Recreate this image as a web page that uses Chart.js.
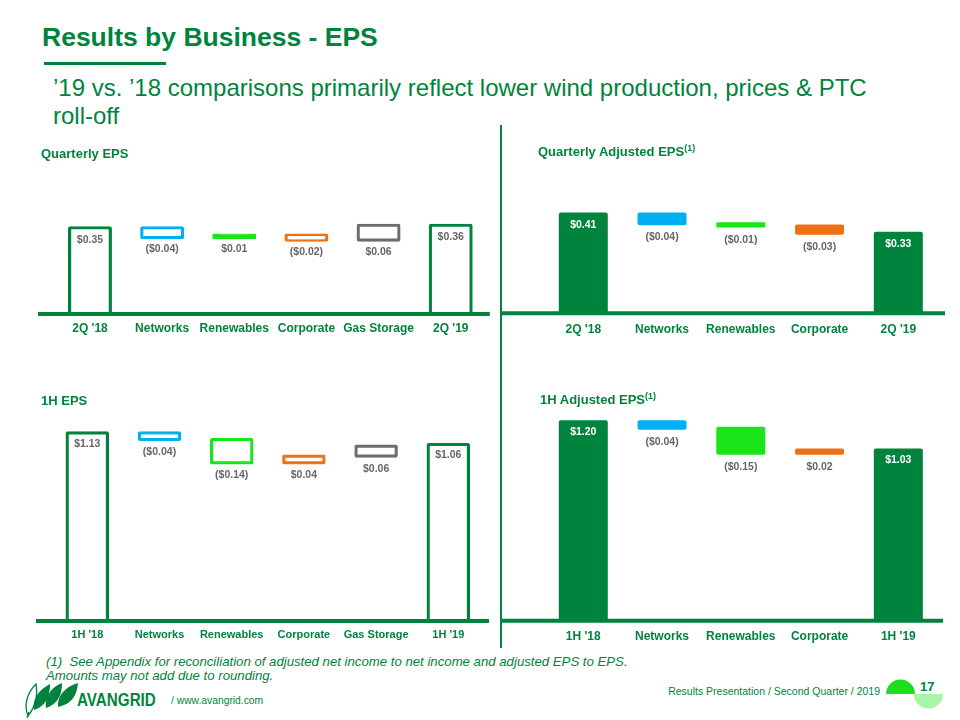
<!DOCTYPE html>
<html><head><meta charset="utf-8">
<script src="https://cdn.jsdelivr.net/npm/chart.js@4"></script>
<style>
html,body{margin:0;padding:0}
body{width:960px;height:720px;background:#fff;position:relative;overflow:hidden;font-family:"Liberation Sans",Arial,sans-serif;color:#00843D}
.t{position:absolute;white-space:nowrap}
.cv{position:absolute}
sup{font-size:9px;vertical-align:0;position:relative;top:-5px}
</style></head><body>

<div class="t" style="left:42px;top:24.3px;font-size:26.5px;line-height:26.5px;font-weight:bold">Results by Business - EPS</div>
<div style="position:absolute;left:44px;top:62px;width:122px;height:3px;background:#00843D"></div>
<div class="t" style="left:53px;top:74.2px;font-size:24px;line-height:28.3px">’19 vs. ’18 comparisons primarily reflect lower wind production, prices &amp; PTC<br>roll-off</div>
<div style="position:absolute;left:500px;top:125px;width:1.5px;height:523px;background:#00843D"></div>

<div class="cv" style="left:30px;top:140px"><canvas id="c1" width="460" height="215"></canvas></div>
<div class="cv" style="left:500px;top:140px"><canvas id="c2" width="460" height="215"></canvas></div>
<div class="cv" style="left:30px;top:390px"><canvas id="c3" width="460" height="262"></canvas></div>
<div class="cv" style="left:500px;top:390px"><canvas id="c4" width="460" height="262"></canvas></div>

<div class="t" style="left:41px;top:147px;font-size:13px;line-height:13px;font-weight:bold">Quarterly EPS</div>
<div class="t" style="left:538px;top:145px;font-size:13px;line-height:13px;font-weight:bold">Quarterly Adjusted EPS<sup>(1)</sup></div>
<div class="t" style="left:41px;top:394px;font-size:13px;line-height:13px;font-weight:bold">1H EPS</div>
<div class="t" style="left:540px;top:393px;font-size:13px;line-height:13px;font-weight:bold">1H Adjusted EPS<sup>(1)</sup></div>

<div class="t" style="left:46px;top:654.8px;font-size:13.2px;line-height:13.2px;font-style:italic">(1)&nbsp; See Appendix for reconciliation of adjusted net income to net income and adjusted EPS to EPS.</div>
<div class="t" style="left:46px;top:669.3px;font-size:13.2px;line-height:13.2px;font-style:italic">Amounts may not add due to rounding.</div>

<svg style="position:absolute;left:22px;top:676px" width="62" height="44" viewBox="0 0 62 44">
  <path d="M6,40 C2,30 4,18 14,8 C16,20 14,30 6,40 Z" fill="none" stroke="#00843D" stroke-width="1.3"/>
  <path d="M5,42 L7,36" stroke="#00843D" stroke-width="1.3"/>
  <path d="M12,34 C10,24 16,14 28,8 C28,20 24,30 12,34 Z" fill="#00843D"/>
  <path d="M24,32 C22,22 28,12 40,7 C40,19 36,28 24,32 Z" fill="#00843D"/>
  <path d="M36,31 C35,21 42,11 56,7 C55,19 50,28 36,31 Z" fill="#00843D"/>
</svg>
<div class="t" style="left:77px;top:689.6px;font-size:19px;line-height:19px;font-weight:bold;transform:scaleX(0.8);transform-origin:0 0">AVANGRID</div>
<div class="t" style="left:171px;top:696px;font-size:10.3px;line-height:10.3px">/ www.avangrid.com</div>
<div class="t" style="right:80px;top:686px;font-size:10.5px;line-height:10.5px">Results Presentation / Second Quarter / 2019</div>
<svg style="position:absolute;left:884px;top:678px" width="62" height="32" viewBox="0 0 62 32">
  <path d="M2,16 A14.5,14.5 0 0 1 31,16 Z" fill="#1ADF1A"/>
  <path d="M30,16 A14.5,14.5 0 0 0 59,16 Z" fill="#A8F5A8"/>
</svg>
<div class="t" style="left:920px;top:680px;font-size:13px;line-height:13px;font-weight:bold">17</div>

<script>
// ---------- data ----------
const qCats = ["2Q '18", "Networks", "Renewables", "Corporate", "Gas Storage", "2Q '19"];
const qEps = [0.35, -0.04, 0.01, -0.02, 0.06, 0.36];

const qAdjCats = ["2Q '18", "Networks", "Renewables", "Corporate", "2Q '19"];
const qAdjEps = [0.41, -0.04, -0.01, -0.03, 0.33];

const hCats = ["1H '18", "Networks", "Renewables", "Corporate", "Gas Storage", "1H '19"];
const hEps = [1.13, -0.04, -0.14, 0.04, 0.06, 1.06];

const hAdjCats = ["1H '18", "Networks", "Renewables", "Corporate", "1H '19"];
const hAdjEps = [1.20, -0.04, -0.15, 0.02, 1.03];

// ---------- style ----------
const GREEN = '#00843D', BLUE = '#00B0F0', BRIGHT = '#19E619', ORANGE = '#EE7015', GRAY = '#6D6D6D';
const TXT = '#666666';
const FONT = '"Liberation Sans", Arial, sans-serif';

// waterfall ranges: first and last are totals from zero, middle ones float
function waterfall(vals) {
  const out = [];
  let run = 0;
  vals.forEach((v, i) => {
    if (i === 0 || i === vals.length - 1) { out.push([0, v]); run = v; }
    else { out.push([run, run + v]); run += v; }
  });
  return out;
}
function fmt(v) {
  const s = '$' + Math.abs(v).toFixed(2);
  return v < 0 ? '(' + s + ')' : s;
}

const baselinePlugin = {
  id: 'baseline',
  afterDatasetsDraw(chart, args, o) {
    const ctx = chart.ctx, ca = chart.chartArea;
    const y = chart.scales.y.getPixelForValue(0);
    ctx.save();
    ctx.strokeStyle = GREEN; ctx.lineWidth = o.width;
    ctx.beginPath(); ctx.moveTo(ca.left + o.left, y); ctx.lineTo(ca.right + o.right, y); ctx.stroke();
    ctx.restore();
  }
};
const labelPlugin = {
  id: 'vlabels',
  afterDatasetsDraw(chart, args, o) {
    const ctx = chart.ctx;
    const meta = chart.getDatasetMeta(0);
    const vals = chart.data.datasets[0].raw;
    ctx.save();
    ctx.font = 'bold 10.5px ' + FONT;
    ctx.textAlign = 'center'; ctx.textBaseline = 'middle';
    meta.data.forEach((el, i) => {
      const top = Math.min(el.y, el.base), bot = Math.max(el.y, el.base);
      const total = (i === 0 || i === meta.data.length - 1);
      ctx.fillStyle = total ? o.totalColor : TXT;
      const y = total ? top + o.totalOff : bot + o.deltaOff;
      ctx.fillText(fmt(vals[i]), el.x, y);
    });
    ctx.restore();
  }
};

function make(id, cats, vals, cfg) {
  const chart = new Chart(document.getElementById(id), {
    type: 'bar',
    data: {
      labels: cats,
      datasets: [{
        raw: vals,
        data: waterfall(vals),
        backgroundColor: cfg.bg,
        borderColor: cfg.border,
        borderWidth: cfg.bw,
        borderSkipped: false,
        borderRadius: 2,
        inflateAmount: cfg.inflate,
        categoryPercentage: 1,
        barPercentage: cfg.barPct
      }]
    },
    options: {
      responsive: false, animation: false, devicePixelRatio: 1,
      layout: { padding: { left: cfg.areaL, right: cfg.W - cfg.areaR, top: 0, bottom: 20 } },
      plugins: {
        legend: { display: false }, tooltip: { enabled: false }, title: { display: false },
        baseline: cfg.base,
        vlabels: cfg.labels
      },
      scales: {
        x: {
          grid: { display: false, drawTicks: false }, border: { display: false },
          ticks: { color: GREEN, padding: cfg.tickPad, font: { family: FONT, size: cfg.tickSize, weight: 'bold', lineHeight: 1.2 }, maxRotation: 0, autoSkip: false }
        },
        y: { display: false, min: 0, max: cfg.ymax }
      }
    },
    plugins: [baselinePlugin, labelPlugin]
  });
  // fit chart area to the wanted baseline / edges
  const ca = chart.chartArea;
  const p = chart.options.layout.padding;
  p.bottom = p.bottom + (ca.bottom - cfg.baseY);
  p.left = p.left + (cfg.areaL - ca.left);
  p.right = p.right + (ca.right - cfg.areaR);
  chart.update('none');
}

make('c1', qCats, qEps, {
  bg: ['#fff', '#fff', BRIGHT, '#fff', '#fff', '#fff'],
  border: [GREEN, BLUE, BRIGHT, ORANGE, GRAY, GREEN],
  bw: 3.2, inflate: 1.6, barPct: 0.565, W: 460,
  areaL: 23.9, areaR: 456.8, baseY: 174,
  tickPad: 7, tickSize: 12, ymax: 174 / 246.5,
  base: { width: 4, left: -16, right: 3 },
  labels: { totalColor: TXT, totalOff: 12, deltaOff: 12 }
});
make('c2', qAdjCats, qAdjEps, {
  bg: [GREEN, BLUE, BRIGHT, ORANGE, GREEN],
  border: [GREEN, BLUE, BRIGHT, ORANGE, GREEN],
  bw: 0, inflate: 1.5, barPct: 0.584, W: 460,
  areaL: 43.9, areaR: 437.7, baseY: 173.3,
  tickPad: 9, tickSize: 12, ymax: 173.3 / 242.3,
  base: { width: 4, left: -43.9, right: 7.3 },
  labels: { totalColor: '#ffffff', totalOff: 11, deltaOff: 13.6 }
});
make('c3', hCats, hEps, {
  bg: ['#fff', '#fff', '#fff', '#fff', '#fff', '#fff'],
  border: [GREEN, BLUE, BRIGHT, ORANGE, GRAY, GREEN],
  bw: 3.2, inflate: 1.6, barPct: 0.558, W: 460,
  areaL: 21.2, areaR: 454.4, baseY: 231,
  tickPad: 7.4, tickSize: 11, ymax: 231 / 166.5,
  base: { width: 4, left: -15.2, right: 4.6 },
  labels: { totalColor: TXT, totalOff: 11, deltaOff: 12.5 }
});
make('c4', hAdjCats, hAdjEps, {
  bg: [GREEN, BLUE, BRIGHT, ORANGE, GREEN],
  border: [GREEN, BLUE, BRIGHT, ORANGE, GREEN],
  bw: 0, inflate: 1.5, barPct: 0.584, W: 460,
  areaL: 43.9, areaR: 437.7, baseY: 230.7,
  tickPad: 9, tickSize: 12, ymax: 230.7 / 165.8,
  base: { width: 4, left: -43.9, right: 5.3 },
  labels: { totalColor: '#ffffff', totalOff: 10.5, deltaOff: 14 }
});
</script>
</body></html>
